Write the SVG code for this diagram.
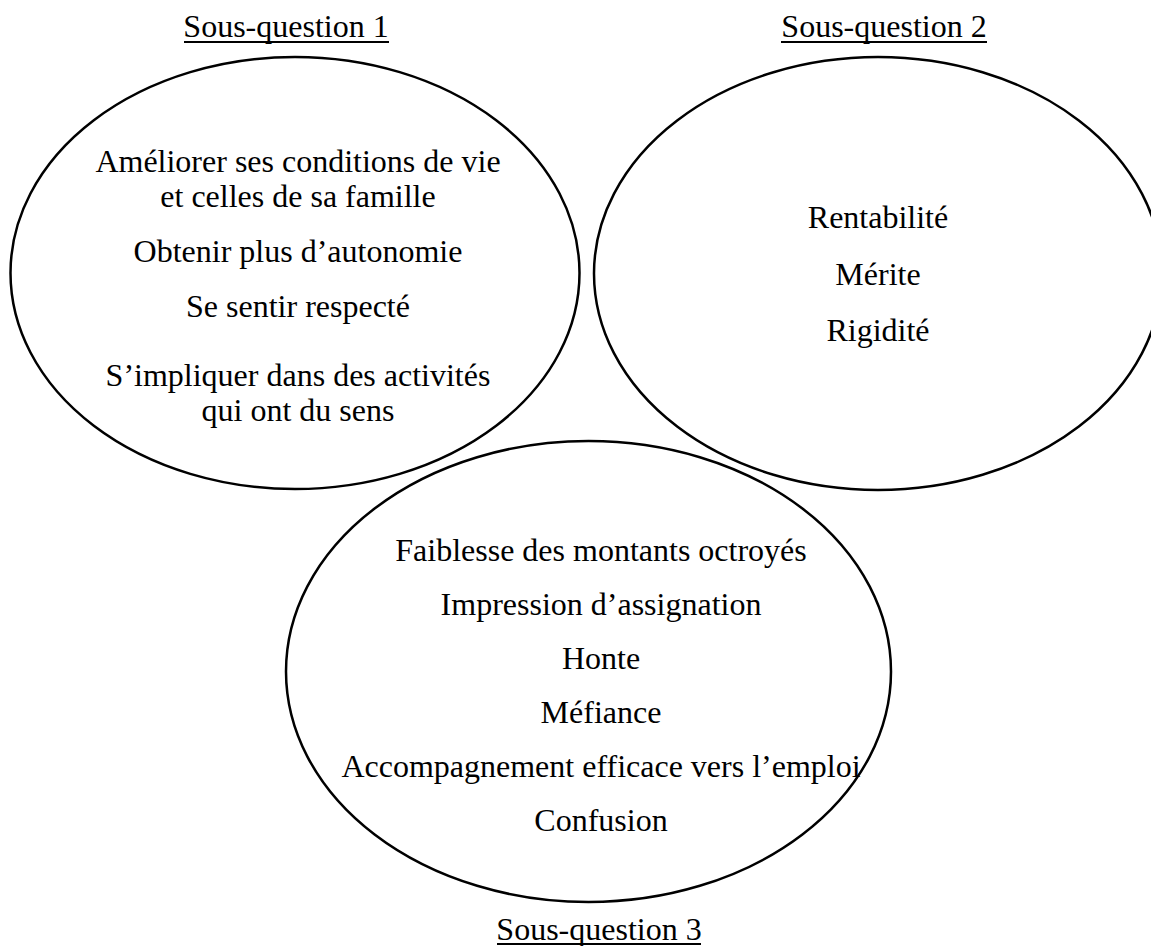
<svg xmlns="http://www.w3.org/2000/svg" width="1151" height="946" viewBox="0 0 1151 946">
<style>
.e{fill:none;stroke:#000;stroke-width:2.5}
.t{font-family:"Liberation Serif","Times New Roman",serif;font-size:32px;fill:#000;text-anchor:middle}
.ul{stroke:#000;stroke-width:2}
</style>
<rect width="1151" height="946" fill="#fff"/>
<g id="sq1">
<text class="t" x="286" y="37">Sous-question 1</text>
<line class="ul" x1="184" y1="42" x2="389" y2="42"/>
<ellipse class="e" cx="295" cy="273" rx="284.5" ry="216"/>
<text class="t" x="298" y="172">Améliorer ses conditions de vie</text>
<text class="t" x="298" y="207">et celles de sa famille</text>
<text class="t" x="298" y="262">Obtenir plus d’autonomie</text>
<text class="t" x="298" y="317">Se sentir respecté</text>
<text class="t" x="298" y="386">S’impliquer dans des activités</text>
<text class="t" x="298" y="421">qui ont du sens</text>
</g>
<g id="sq2">
<text class="t" x="884" y="37">Sous-question 2</text>
<line class="ul" x1="781" y1="42" x2="987" y2="42"/>
<ellipse class="e" cx="878" cy="273.5" rx="284" ry="216.5"/>
<text class="t" x="878" y="228">Rentabilité</text>
<text class="t" x="878" y="285">Mérite</text>
<text class="t" x="878" y="341">Rigidité</text>
</g>
<g id="sq3">
<ellipse class="e" cx="588.5" cy="671.5" rx="302.5" ry="230.5"/>
<text class="t" x="601" y="561">Faiblesse des montants octroyés</text>
<text class="t" x="601" y="615">Impression d’assignation</text>
<text class="t" x="601" y="669">Honte</text>
<text class="t" x="601" y="723">Méfiance</text>
<text class="t" x="601" y="777">Accompagnement efficace vers l’emploi</text>
<text class="t" x="601" y="831">Confusion</text>
<text class="t" x="599" y="940">Sous-question 3</text>
<line class="ul" x1="497" y1="944" x2="701" y2="944"/>
</g>
<g id="connectors"></g>
</svg>
